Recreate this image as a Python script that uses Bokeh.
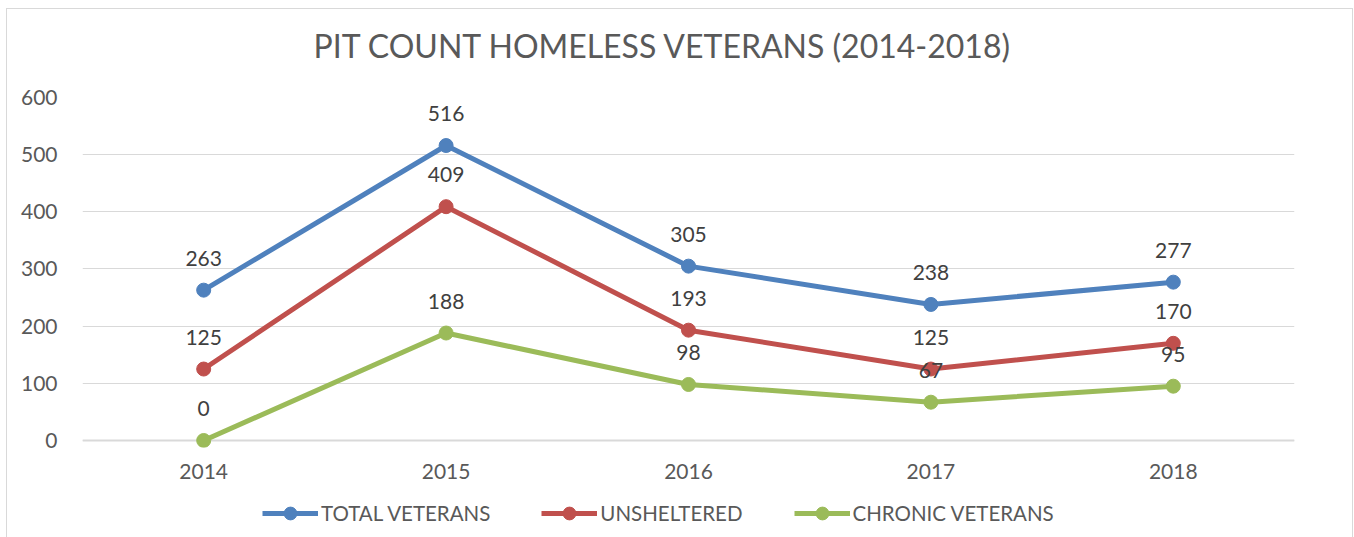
from bokeh.plotting import figure
from bokeh.layouts import column
from bokeh.models import Range1d, FixedTicker, Legend, LegendItem, ColumnDataSource, Title, Span
from bokeh.core.properties import value
from bokeh.embed import file_html
from bokeh.resources import INLINE

years = [2014, 2015, 2016, 2017, 2018]
total_veterans = [263, 516, 305, 238, 277]
unsheltered = [125, 409, 193, 125, 170]
chronic_veterans = [0, 188, 98, 67, 95]
series_names = ["TOTAL VETERANS", "UNSHELTERED", "CHRONIC VETERANS"]
series_colors = ["#4f81bd", "#c0504d", "#9bbb59"]
y_ticks = [0, 100, 200, 300, 400, 500, 600]
title_text = "PIT COUNT HOMELESS VETERANS (2014-2018)"

FONT = "Lato"
G = "linear-gradient(#d9d9d9,#d9d9d9)"
bg = (f"{G} 6px 8px/1px 100% no-repeat, {G} 6px 8px/1347px 1px no-repeat, "
      f"{G} 1352px 8px/1px 100% no-repeat, white")

# frame: top at 97px (600), zero line at 440px; a little room below zero so markers at 0 are not clipped
p = figure(width=1354, height=497, output_backend="svg", toolbar_location=None,
           x_range=Range1d(2013.5, 2018.5), y_range=Range1d(-12.25, 600),
           min_border_left=82, min_border_right=60, min_border_top=97, min_border_bottom=50)
p.outline_line_color = None
p.background_fill_color = "white"
p.border_fill_alpha = 0

p.title.text = title_text
p.title.align = "left"
p.title.offset = 231
p.title.standoff = 0
p.title.text_font = FONT
p.title.text_font_size = "32px"
p.title.text_font_style = "normal"
p.title.text_color = "#595959"
p.add_layout(Title(text=" ", text_font_size="1px", standoff=30), "above")

p.xaxis.ticker = FixedTicker(ticks=years)
p.yaxis.ticker = FixedTicker(ticks=y_ticks)
p.xgrid.grid_line_color = None
p.ygrid.grid_line_color = "#d9d9d9"
p.ygrid.grid_line_width = 1.2

for ax in (p.xaxis, p.yaxis):
    ax.major_tick_line_color = None
    ax.minor_tick_line_color = None
    ax.axis_line_color = None
    ax.major_label_text_font = FONT
    ax.major_label_text_font_size = "21px"
    ax.major_label_text_color = "#595959"
p.yaxis.major_label_standoff = 19
p.xaxis.major_label_standoff = 10

# horizontal category axis line at zero
p.add_layout(Span(location=0, dimension="width", line_color="#d9d9d9", line_width=2,
                  level="underlay"))

all_series = [total_veterans, unsheltered, chronic_veterans]
for name, col, vals in zip(series_names, series_colors, all_series):
    src = ColumnDataSource(dict(x=years, y=vals))
    p.line("x", "y", source=src, line_color=col, line_width=5)
    p.scatter("x", "y", source=src, size=14, fill_color=col, line_color=col)

for vals in all_series:
    src = ColumnDataSource(dict(x=years, y=vals, t=[str(v) for v in vals]))
    p.text("x", "y", text="t", source=src, y_offset=-32, text_align="center",
           text_baseline="middle", text_font=value(FONT), text_font_size="21px",
           text_color="#404040")

# legend strip below the chart (its swatch renderers sit outside the visible range)
q = figure(width=1354, height=40, output_backend="svg", toolbar_location=None,
           x_range=Range1d(0, 1), y_range=Range1d(0, 1),
           x_axis_type=None, y_axis_type=None, min_border=0)
q.outline_line_color = None
q.background_fill_alpha = 0
q.border_fill_alpha = 0
q.xgrid.visible = False
q.ygrid.visible = False
items = []
for name, col in zip(series_names, series_colors):
    lr = q.line(x=[-10, -9], y=[-10, -10], line_color=col, line_width=5)
    sr = q.scatter(x=[-10], y=[-10], size=14, fill_color=col, line_color=col)
    items.append(LegendItem(label=name, renderers=[lr, sr]))

lg = Legend(items=items, location=(180, 8), orientation="horizontal",
            glyph_width=56, glyph_height=32, label_height=32,
            label_standoff=3, padding=0, margin=0, spacing=51,
            border_line_color=None, background_fill_alpha=0,
            label_text_font=FONT, label_text_font_size="20.5px",
            label_text_color="#595959")
q.add_layout(lg, "center")

layout = column(p, q, spacing=0, styles={"background": bg})
open("out.html", "w").write(file_html(layout, INLINE))
